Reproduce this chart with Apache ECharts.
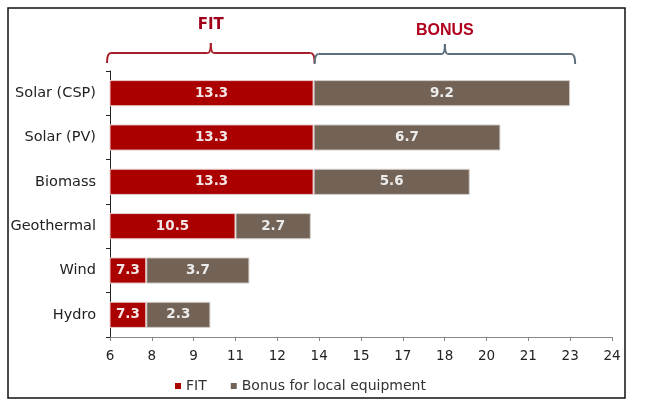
<!DOCTYPE html>
<html>
<head>
<meta charset="utf-8">
<script src="https://cdn.jsdelivr.net/npm/echarts@6/dist/echarts.min.js"></script>
<style>
html,body{margin:0;padding:0;background:#fff;}
#chart{width:651px;height:409px;}
</style>
</head>
<body>
<div id="chart"></div>
<script>
var categories = ['Solar (CSP)', 'Solar (PV)', 'Biomass', 'Geothermal', 'Wind', 'Hydro'];
var fitValues = [13.3, 13.3, 13.3, 10.5, 7.3, 7.3];
var bonusValues = [9.2, 6.7, 5.6, 2.7, 3.7, 2.3];
var seriesNames = ['FIT', 'Bonus for local equipment'];
var axisMin = 6, axisMax = 24, axisStep = 1.5;

var chart = echarts.init(document.getElementById('chart'));
var font = 'DejaVu Sans, Verdana, sans-serif';

chart.setOption({
  animation: false,
  textStyle: { fontFamily: font },
  grid: { left: 110, right: 39, top: 71, bottom: 72 },
  legend: {
    data: seriesNames,
    left: 170, top: 374,
    icon: 'rect', itemWidth: 6, itemHeight: 6, itemGap: 24,
    itemStyle: { borderWidth: 0 },
    textStyle: { fontFamily: font, fontSize: 14, color: '#333' }
  },
  xAxis: {
    type: 'value', min: axisMin, max: axisMax, interval: axisStep,
    splitLine: { show: false },
    axisLine: { show: true, lineStyle: { color: '#888', width: 1 } },
    axisTick: { show: true, length: 4, lineStyle: { color: '#888' } },
    axisLabel: { formatter: function (v) { return String(Math.round(v)); }, fontSize: 13.5, color: '#222', margin: 12, fontFamily: font }
  },
  yAxis: {
    type: 'category', data: categories, inverse: true,
    axisLine: { show: true, lineStyle: { color: '#222', width: 1 } },
    axisTick: { show: true, length: 4, lineStyle: { color: '#222' } },
    axisLabel: { fontSize: 14.5, color: '#222', margin: 14, fontFamily: font }
  },
  series: [
    {
      name: seriesNames[0], type: 'bar', stack: 'total', data: fitValues,
      barWidth: '59%',
      itemStyle: { color: '#AA0000', borderColor: '#e9cccc', borderWidth: 1 },
      label: { show: true, position: 'inside', color: '#f4e6e6', fontWeight: 'bold', fontSize: 13.5, fontFamily: font }
    },
    {
      name: seriesNames[1], type: 'bar', stack: 'total', data: bonusValues,
      itemStyle: { color: '#736357', borderColor: '#d6d0cc', borderWidth: 1 },
      label: { show: true, position: 'inside', color: '#ececec', fontWeight: 'bold', fontSize: 13.5, fontFamily: font }
    }
  ]
});

function px(v) { return chart.convertToPixel({ xAxisIndex: 0 }, v); }
function brace(x0, x1, y, c) {
  var m = (x0 + x1) / 2;
  var st = { stroke: c, lineWidth: 2, fill: null };
  function q(ax, ay, cx, cy, bx, by) {
    return { type: 'bezierCurve', shape: { x1: ax, y1: ay, cpx1: cx, cpy1: cy, x2: bx, y2: by }, style: st };
  }
  function l(ax, ay, bx, by) {
    return { type: 'line', shape: { x1: ax, y1: ay, x2: bx, y2: by }, style: st };
  }
  return {
    type: 'group',
    children: [
      q(x0, y + 10, x0, y, x0 + 4, y),
      l(x0 + 4, y, m - 3, y),
      q(m - 3, y, m, y, m, y - 10),
      q(m, y - 10, m, y, m + 3, y),
      l(m + 3, y, x1 - 4, y),
      q(x1 - 4, y, x1, y, x1, y + 10)
    ]
  };
}
var fitMax = Math.max.apply(null, fitValues);
var totalMax = Math.max.apply(null, fitValues.map(function (v, i) { return v + bonusValues[i]; }));
var a0 = px(axisMin) - 3, a1 = px(fitMax) + 1, a2 = px(totalMax) + 5;
chart.setOption({
  graphic: [
    { type: 'rect', shape: { x: 8, y: 8, width: 617, height: 390 }, style: { fill: null, stroke: '#111', lineWidth: 1.5 }, z: 0 },
    brace(a0, a1, 53, '#A8202A'),
    brace(a1, a2, 54, '#5f6e7b'),
    { type: 'text', x: (a0 + a1) / 2, y: 25, style: { text: 'FIT', fill: '#A0001E', font: 'bold 15px DejaVu Sans', textAlign: 'center', textVerticalAlign: 'middle' } },
    { type: 'text', x: (a1 + a2) / 2, y: 31, style: { text: 'BONUS', fill: '#B0001E', font: 'bold 16px Liberation Sans', textAlign: 'center', textVerticalAlign: 'middle' } }
  ]
});
</script>
</body>
</html>
